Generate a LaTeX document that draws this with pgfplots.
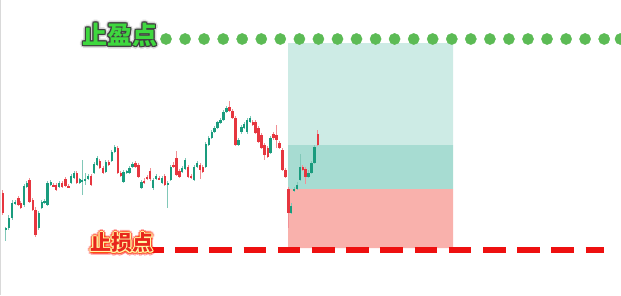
\documentclass[border=0pt]{standalone}
\usepackage{pgfplots}
\pgfplotsset{compat=1.18}
\usepackage{pgfplotstable}
\usepackage{fontspec}
\newfontfamily\cjk{Noto Sans CJK SC}
\definecolor{cgreen}{HTML}{1A9C7E}
\definecolor{cred}{HTML}{E6363F}
\definecolor{dotgreen}{HTML}{5CBB55}
\definecolor{tpfill}{HTML}{CDEBE5}
\definecolor{midfill}{HTML}{A7DCD2}
\definecolor{slfill}{HTML}{F9B1AC}
\definecolor{dashred}{HTML}{EE1010}
\definecolor{tpgreen}{HTML}{3ED83E}
\definecolor{slred}{HTML}{E8261C}

% x  open high low close  (y in picture rows, top = 0)
\pgfplotstableread{
x o h l c
5.7 230 227 241 228
8.7 228 215 230 218
12 218 200 220 203
15 204 200 205 202
24 205 184 207 186
26.7 187 181 188 183
38.7 228 211 230 213
41.7 208 200 209 202
44.3 203 199 204 201
47.3 205 181 206 183
50.7 185 180 186 182
59 187 181 188 183
71 183 174 184 176
74 178 171 179 173
79.7 183 178 184 179
82 181 160 195 180
85 180 173 185 179
88 179 174 180 176
94 173 162 174 164
97 165 156 166 158
105.7 172 160 173 162
111.7 161 150 162 152
114.7 152 145 153 147
123.3 182 170 183 172
126.7 172 170 174 171
129.3 173 166 174 168
132.3 167 162 168 164
141.3 188 180 189 182
153 188 178 190 180
156 179 174 180 176
162 183 176 184 178
167.7 185 181 208 183
170.7 180 165 181 167
182 172 166 173 168
185 169 158 170 160
194 180 165 181 167
197 167 161 168 163
205.7 167 142 168 144
208.7 145 136 146 138
211.7 138 130 139 132
214.5 132 126 133 128
217.3 128 121 129 122
220.3 123 118 124 120
223.3 120 110 121 112
226.3 112 106 113 108
238.3 145 138 146 140
241.3 132 125 134 127
244 128 122 129 124
247 132 118 134 120
250 122 116 123 118
270.5 153 136 154 138
291.2 213 203 214 206
294 190 187 192 189
297 189 182 190 185
300 180 154 181 167
308.3 177 170 178 173
311.3 173 161 174 163
314.3 163 145 164 147
}\upcandles

\pgfplotstableread{
x o h l c
2.7 193 190 215 213
18.3 198 196 206 205
20.7 203 201 209 208
29.3 180 178 203 202
32.7 200 198 211 210
35.3 210 207 237 235
53.3 185 183 187 186
56 185 183 191 190
62 183 181 188 187
65.3 179 177 187 186
68.3 186 184 188 187
76.7 173 171 184 183
91 176 174 186 185
99.7 161 159 169 168
103 168 166 174 173
108.7 162 160 166 165
117.7 148 146 174 173
120.7 173 171 177 176
135.3 163 161 168 167
138.3 165 163 178 177
144 181 178 184 183
147 177 175 180 179
150 171 168 181 179
159 178 176 180 179
164.7 176 174 186 185
173.3 165 162 168 167
176.3 158 151 176 175
179.3 171 169 178 177
188 167 165 178 177
191 176 174 179 178
200 165 163 179 170
202.7 167 165 173 172
229.3 107 101 112 111
232.3 111 109 119 118
235.3 118 116 146 145
252.7 122 120 126 125
255.5 122 120 134 133
258.5 128 126 143 142
261.5 135 133 149 148
264.5 145 143 160 155
267.7 148 146 158 157
273.5 134 132 140 138
276.5 135 125 148 140
279.3 143 141 149 148
282.3 150 148 171 170
285.3 170 168 178 177
288.3 189 187 228 213
302.8 167 165 171 170
305.5 169 167 184 177
317.7 134 130 146 145
}\downcandles

\pgfplotstableread{
x y
166 39
185.1 39
204.1 39
223.2 39
242.2 39
261.3 39
280.3 39
299.4 39
318.4 39
337.5 39
356.5 39
375.6 39
394.6 39
413.7 39
432.7 39
451.8 39
470.8 39
489.9 39
508.9 39
528.0 39
547.0 39
566.1 39
585.1 39
604.2 39
620.5 39
}\tpdots

\newcommand\ring[6]{% x, y, colour, radius, opacity, text
  \node[text=#3, text opacity=#5, xshift=#4pt] at (axis cs:#1,#2) {#6};
  \node[text=#3, text opacity=#5, xshift=-#4pt] at (axis cs:#1,#2) {#6};
  \node[text=#3, text opacity=#5, yshift=#4pt] at (axis cs:#1,#2) {#6};
  \node[text=#3, text opacity=#5, yshift=-#4pt] at (axis cs:#1,#2) {#6};
  \node[text=#3, text opacity=#5, xshift=0.7*#4pt, yshift=0.7*#4pt] at (axis cs:#1,#2) {#6};
  \node[text=#3, text opacity=#5, xshift=-0.7*#4pt, yshift=0.7*#4pt] at (axis cs:#1,#2) {#6};
  \node[text=#3, text opacity=#5, xshift=0.7*#4pt, yshift=-0.7*#4pt] at (axis cs:#1,#2) {#6};
  \node[text=#3, text opacity=#5, xshift=-0.7*#4pt, yshift=-0.7*#4pt] at (axis cs:#1,#2) {#6};
}

\begin{document}
\begin{tikzpicture}
\begin{axis}[
  width=621pt, height=295pt, scale only axis,
  xmin=0, xmax=621, ymin=0, ymax=295, y dir=reverse,
  hide axis, clip=true, clip marker paths=true,
]
% left border line
\addplot[black!15, line width=0.8pt] coordinates {(0.5,0) (0.5,295)};

% target / entry / stop zones
\addplot[fill=tpfill, draw=none] coordinates {(288,43) (453,43) (453,145) (288,145) (288,43)};
\addplot[fill=midfill, draw=none] coordinates {(288,145) (453,145) (453,189) (288,189) (288,145)};
\addplot[fill=slfill, draw=none] coordinates {(288,189) (453,189) (453,248) (288,248) (288,189)};

% wicks
\addplot[draw=none, mark=none, error bars/.cd, y dir=both, y explicit,
  error mark=none, error bar style={line width=0.8pt, cgreen!55}]
  table[x=x, y expr={(\thisrow{h}+\thisrow{l})/2}, y error expr={(\thisrow{l}-\thisrow{h})/2}] {\upcandles};
\addplot[draw=none, mark=none, error bars/.cd, y dir=both, y explicit,
  error mark=none, error bar style={line width=0.8pt, cred!55}]
  table[x=x, y expr={(\thisrow{h}+\thisrow{l})/2}, y error expr={(\thisrow{l}-\thisrow{h})/2}] {\downcandles};
% bodies
\addplot[draw=none, mark=none, error bars/.cd, y dir=both, y explicit,
  error mark=none, error bar style={line width=2.4pt, cgreen}]
  table[x=x, y expr={(\thisrow{o}+\thisrow{c})/2}, y error expr={max(abs(\thisrow{c}-\thisrow{o})/2,0.7)}] {\upcandles};
\addplot[draw=none, mark=none, error bars/.cd, y dir=both, y explicit,
  error mark=none, error bar style={line width=2.4pt, cred}]
  table[x=x, y expr={(\thisrow{o}+\thisrow{c})/2}, y error expr={max(abs(\thisrow{c}-\thisrow{o})/2,0.7)}] {\downcandles};

% take-profit dotted line
\addplot[only marks, color=dotgreen, mark=*, mark size=5.6pt, mark options={draw=none, fill=dotgreen}] table {\tpdots};
% stop-loss dashed line
\addplot[dashred, line width=5.5pt, dash pattern=on 22.5pt off 11.7pt] coordinates {(141,250) (604,250)};

% labels
\ring{120}{35}{black!20}{2.8}{0.6}{\cjk\bfseries\fontsize{25}{25}\selectfont 止盈点}
\ring{120}{35}{black!75}{1.3}{1}{\cjk\bfseries\fontsize{25}{25}\selectfont 止盈点}
\node[text=tpgreen] at (axis cs:120,35) {\cjk\bfseries\fontsize{25}{25}\selectfont 止盈点};

\ring{122}{243}{red}{3.4}{0.3}{\cjk\bfseries\fontsize{21}{21}\selectfont 止损点}
\ring{122}{243}{red!70!yellow}{2}{0.5}{\cjk\bfseries\fontsize{21}{21}\selectfont 止损点}
\ring{122}{243}{yellow!35}{1}{1}{\cjk\bfseries\fontsize{21}{21}\selectfont 止损点}
\node[text=slred] at (axis cs:122,243) {\cjk\bfseries\fontsize{21}{21}\selectfont 止损点};
\end{axis}
\end{tikzpicture}
\end{document}
